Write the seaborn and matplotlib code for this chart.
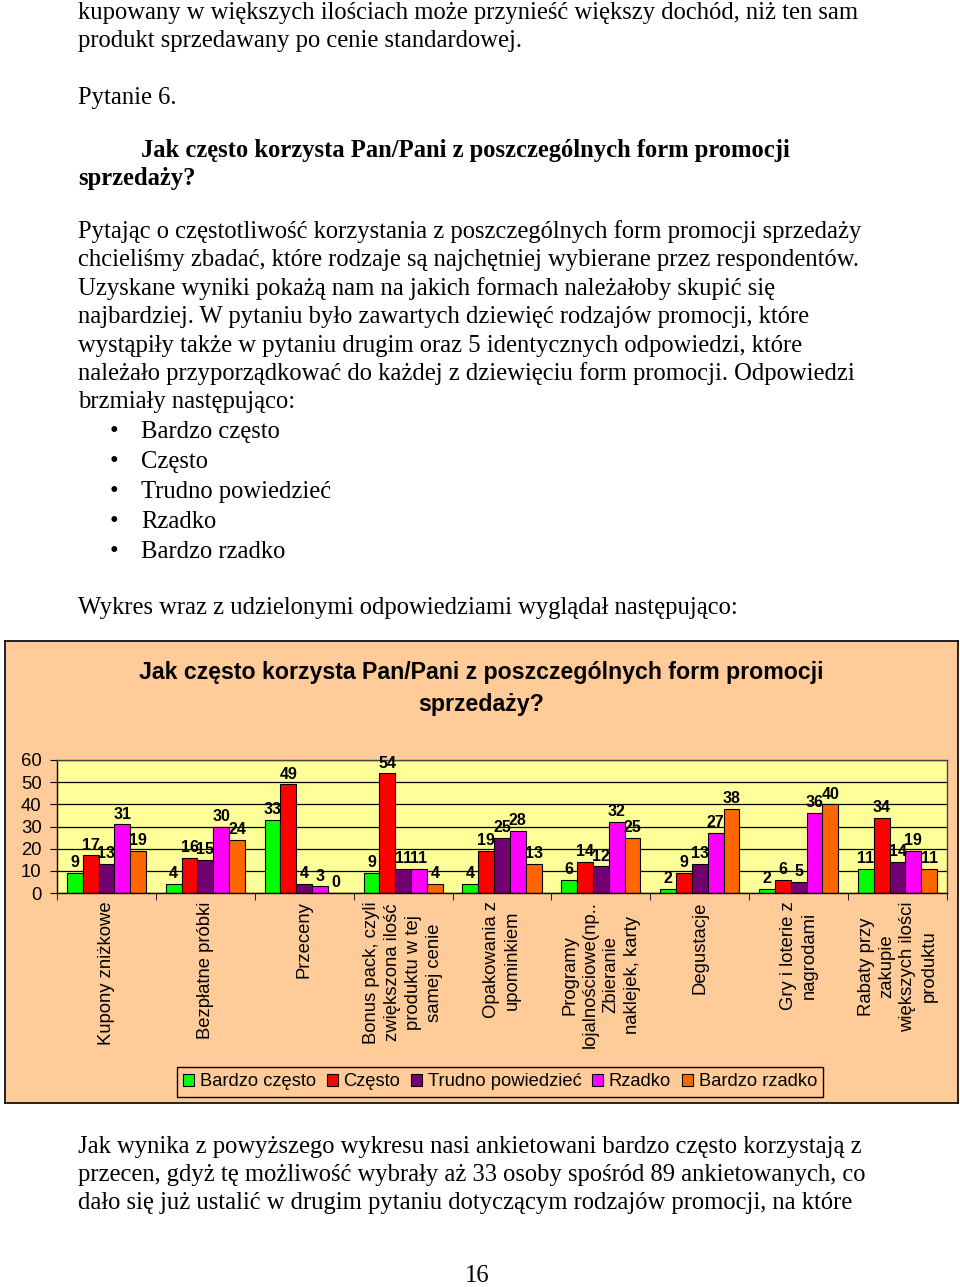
import numpy as np
import pandas as pd
import seaborn as sns
import matplotlib.pyplot as plt

# dane wykresu
formy = ['Kupony zniżkowe', 'Bezpłatne próbki', 'Przeceny',
         'Bonus pack, czyli\nzwiększona ilość\nproduktu w tej\nsamej cenie',
         'Opakowania z\nupominkiem',
         'Programy\nlojalnościowe(np..\nZbieranie\nnaklejek, karty',
         'Degustacje', 'Gry i loterie z\nnagrodami',
         'Rabaty przy\nzakupie\nwiększych ilości\nproduktu']
odpowiedzi = ['Bardzo często', 'Często', 'Trudno powiedzieć', 'Rzadko', 'Bardzo rzadko']
bardzo_czesto = [9, 4, 33, 9, 4, 6, 2, 2, 11]
czesto = [17, 16, 49, 54, 19, 14, 9, 6, 34]
trudno = [13, 15, 4, 11, 25, 12, 13, 5, 14]
rzadko = [31, 30, 3, 11, 28, 32, 27, 36, 19]
bardzo_rzadko = [19, 24, 0, 4, 13, 25, 38, 40, 11]
kolory = ['#00FF00', '#FF0000', '#730073', '#FF00FF', '#FF6600']

rows = []
for odp, vals in zip(odpowiedzi, [bardzo_czesto, czesto, trudno, rzadko, bardzo_rzadko]):
    for f, v in zip(formy, vals):
        rows.append({'forma': f, 'odp': odp, 'liczba': v})
df = pd.DataFrame(rows)

W, H = 960, 1287
fig = plt.figure(figsize=(W / 100, H / 100), dpi=100)
fig.patch.set_facecolor('white')


def fx(x):
    return x / W


def fy(y):
    return 1 - y / H


serif = 'Liberation Serif'
fs = 17.7


def line(x, y, s, bold=False):
    fig.text(fx(x), fy(y), s, family=serif, fontsize=fs, va='baseline', ha='left',
             fontweight='bold' if bold else 'normal')


# tekst nad wykresem
line(78, 19, 'kupowany w większych ilościach może przynieść większy dochód, niż ten sam')
line(78, 47, 'produkt sprzedawany po cenie standardowej.')
line(78, 104, 'Pytanie 6.')
line(141, 157, 'Jak często korzysta Pan/Pani z poszczególnych form promocji', bold=True)
line(78, 185, 'sprzedaży?', bold=True)
akapit = ['Pytając o częstotliwość korzystania z poszczególnych form promocji sprzedaży',
          'chcieliśmy zbadać, które rodzaje są najchętniej wybierane przez respondentów.',
          'Uzyskane wyniki pokażą nam na jakich formach należałoby skupić się',
          'najbardziej. W pytaniu było zawartych dziewięć rodzajów promocji, które',
          'wystąpiły także w pytaniu drugim oraz 5 identycznych odpowiedzi, które',
          'należało przyporządkować do każdej z dziewięciu form promocji. Odpowiedzi',
          'brzmiały następująco:']
for i, s in enumerate(akapit):
    line(78, 238 + i * 28.4, s)
for i, s in enumerate(odpowiedzi):
    y = 438 + i * 30
    line(110, y, '•')
    line(141, y, s)
line(78, 614, 'Wykres wraz z udzielonymi odpowiedziami wyglądał następująco:')
dol = ['Jak wynika z powyższego wykresu nasi ankietowani bardzo często korzystają z',
       'przecen, gdyż tę możliwość wybrały aż 33 osoby spośród 89 ankietowanych, co',
       'dało się już ustalić w drugim pytaniu dotyczącym rodzajów promocji, na które']
for i, s in enumerate(dol):
    line(78, 1153 + i * 28.2, s)
fig.text(fx(477), fy(1282), '16', family=serif, fontsize=fs, ha='center', va='baseline')

# tło wykresu
bg = fig.add_axes([fx(5), fy(1103), 953 / W, 462 / H])
bg.set_facecolor('#FFCC99')
bg.set_xticks([])
bg.set_yticks([])
for s in bg.spines.values():
    s.set_color('black')
    s.set_linewidth(1.2)

fig.text(fx(481), fy(689), 'Jak często korzysta Pan/Pani z poszczególnych form promocji\nsprzedaży?',
         family='Liberation Sans', fontsize=16.7, fontweight='bold', ha='center', va='center',
         linespacing=1.5)

ax = fig.add_axes([fx(57), fy(893), 890 / W, 133 / H])
sns.barplot(data=df, x='forma', y='liczba', hue='odp', palette=kolory, edgecolor='black',
            linewidth=0.8, width=0.8, saturation=1, ax=ax)
ax.set_facecolor('#FFFF99')
ax.set_axisbelow(True)
ax.yaxis.grid(True, color='black', linewidth=0.9)
ax.set_ylim(0, 60)
ax.set_xlim(-0.5, 8.5)
ax.set_yticks(range(0, 61, 10))
ax.set_xlabel('')
ax.set_ylabel('')
for s in ax.spines.values():
    s.set_color('black')
    s.set_linewidth(1)
ax.spines['top'].set_color('#444444')
ax.spines['right'].set_color('#444444')

for c in ax.containers:
    ax.bar_label(c, fontsize=11.5, fontweight='bold', family='Liberation Sans', padding=2)

ax.set_xticks(np.arange(-0.5, 9, 1), minor=True)
ax.tick_params(axis='x', which='major', length=0, pad=6)
ax.tick_params(axis='x', which='minor', length=5, direction='out')
ax.tick_params(axis='y', length=5, pad=6)
ax.set_xticks(range(9))
ax.set_xticklabels(formy, rotation=90, family='Liberation Sans', fontsize=13.3,
                   ha='center', va='top', linespacing=1.3)
for t in ax.get_yticklabels():
    t.set_family('Liberation Sans')
    t.set_fontsize(13.3)

handles, labels = ax.get_legend_handles_labels()
ax.get_legend().remove()
leg = fig.legend(handles, labels, loc='center', bbox_to_anchor=(fx(500), fy(1082)), ncol=5,
                 frameon=True, fancybox=False, edgecolor='black', facecolor='#FFCC99',
                 framealpha=1, handlelength=0.6, handleheight=0.6, handletextpad=0.3,
                 columnspacing=0.6, borderpad=0.35, prop={'family': 'Liberation Sans', 'size': 13.2})
leg.get_frame().set_linewidth(1)

fig.savefig('out.png', dpi=100)
